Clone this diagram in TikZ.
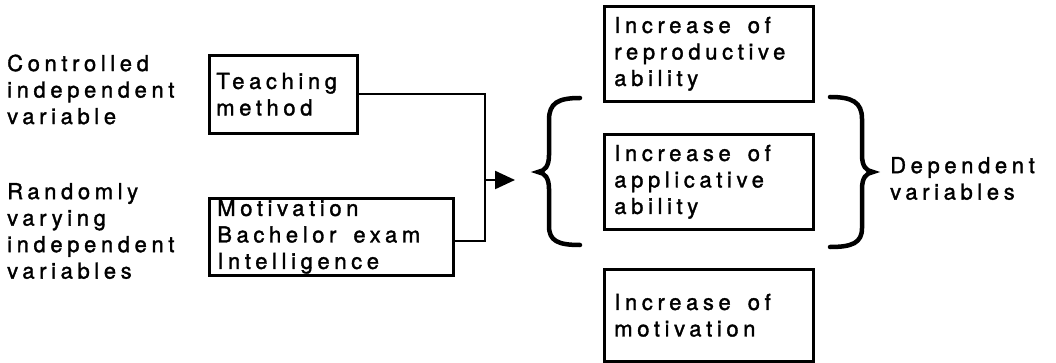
\documentclass[tikz,border=0pt]{standalone}
\usepackage{fontspec}
\setmainfont[LetterSpace=21,FakeBold=1.5]{TeX Gyre Heros}
\usetikzlibrary{arrows.meta}
\newcommand{\ws}{\hspace{17pt}}
\tikzset{
  lbl/.style={align=left, inner sep=0pt, font=\fontsize{22}{26.5}\selectfont},
  box/.style={draw, line width=2.6pt, align=left, inner ysep=0pt, anchor=north west,
              font=\fontsize{22}{26.5}\selectfont},
  conn/.style={line width=2.3pt},
  brc/.style={line width=4.5pt, line cap=round},
}
\begin{document}
\begin{tikzpicture}[x=1pt,y=-1pt]
\useasboundingbox (0,0) rectangle (1056,363);
% left labels
\node[lbl, anchor=west] (l1) at (7,89.5) {Controlled\\independent\\variable};
\node[lbl, anchor=west] (l2) at (7,231) {Randomly\\varying\\independent\\variables};
% input boxes
\node[box, inner xsep=7pt, text width=134pt, minimum height=78pt] (tm) at (208,54) {Teaching\\method};
\node[box, inner xsep=8pt, text width=228pt, minimum height=77pt] (mv) at (208,197) {Motivation\\Bachelor\ws exam\\Intelligence};
% output boxes
\node[box, inner xsep=10pt, text width=189pt, minimum height=95pt] (o1) at (603,5) {Increase\ws of\\reproductive\\ability};
\node[box, inner xsep=10pt, text width=189pt, minimum height=95pt] (o2) at (603,133) {Increase\ws of\\applicative\\ability};
\node[box, inner xsep=10pt, text width=189pt, minimum height=92pt] (o3) at (603,268) {Increase\ws of\\motivation};
% dependent label
\node[lbl, anchor=west] (dv) at (890,178.5) {Dependent\\variables};
% connectors
\coordinate (j) at (485,180);
\coordinate (tip) at (515,180);
\draw[conn] (tm.east) -| (j);
\draw[conn] ([yshift=-4.5pt]mv.east) -| (j);
\draw[conn, -{Triangle[length=20pt,width=18pt]}] (j) -- (tip);
% braces
\draw[brc] (580,98) .. controls (558,98) and (549,103) .. (549,120) -- (549,155)
  .. controls (549,166) and (545,171) .. (538,172)
  .. controls (545,173) and (549,178) .. (549,189) -- (549,226)
  .. controls (549,241) and (558,245) .. (580,245);
\draw[brc] (830,97) .. controls (852,97) and (862,102) .. (862,119) -- (862,155)
  .. controls (862,166) and (866,171) .. (873,172)
  .. controls (866,173) and (862,178) .. (862,189) -- (862,228)
  .. controls (862,243) and (852,247) .. (830,247);
\end{tikzpicture}
\end{document}
